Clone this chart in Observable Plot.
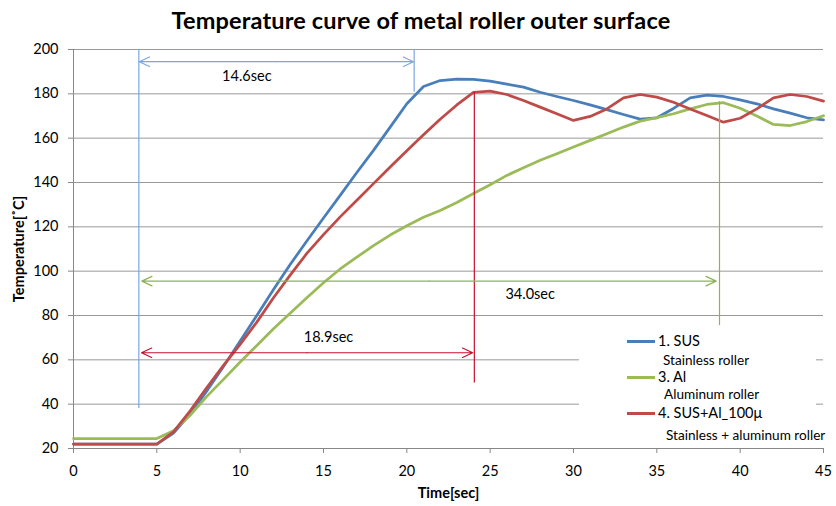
<!DOCTYPE html>
<html>
<head>
<meta charset="utf-8">
<script src="https://cdn.jsdelivr.net/npm/d3@7"></script>
<script src="https://cdn.jsdelivr.net/npm/@observablehq/plot@0.6"></script>
<style>
  html, body { margin: 0; padding: 0; background: #fff; overflow: hidden; }
  #wrap { position: relative; width: 836px; height: 506px; font-family: Lato, "Open Sans", sans-serif; }
  #title { height: 40px; line-height: 40px; text-align: center; font-weight: bold; font-size: 23.5px; letter-spacing: 0.15px; padding-left: 6px; color: #000; }
  #legend { position: absolute; left: 579px; top: 326px; width: 237px; height: 120px; background: #fff; }
  .sw { position: absolute; left: 48px; width: 28px; height: 3px; }
  .lt { position: absolute; font-size: 14.5px; white-space: nowrap; line-height: 16px; }
  .ls { position: absolute; font-size: 13.6px; white-space: nowrap; line-height: 15px; }
  g[aria-label="x-axis label"] text, g[aria-label="y-axis label"] text { font-weight: bold; }
</style>
</head>
<body>
<div id="wrap">
  <div id="title">Temperature curve of metal roller outer surface</div>
  <div id="chart"></div>
  <div id="legend"></div>
</div>
<script>
const time = [0,1,2,3,4,5,6,7,8,9,10,11,12,13,14,15,16,17,18,19,20,21,22,23,24,25,26,27,28,29,30,31,32,33,34,35,36,37,38,39,40,41,42,43,44,45];
const sus = [22,22,22,22,22,22,27,35.5,46,57,68.5,80,91.7,103,113.6,124,134.2,144.5,154.5,165,175.5,183.3,186,186.6,186.5,185.7,184.4,183,180.7,178.8,177,175,172.9,170.7,168.6,169.2,173.4,178.2,179.4,178.8,177.3,175.5,173.2,171.3,169.2,168.3];
const al = [24.5,24.5,24.5,24.5,24.5,24.5,28,35,43.5,51.2,59,66.5,74,81,88,94.8,101,106.3,111.5,116.3,120.5,124.3,127.4,131,135,139,143.2,146.7,150,153,156,159,162,165,167.7,169.3,171,173.2,175.2,176,173.5,170,166.2,165.7,167.5,170.1];
const susAl = [22,22,22,22,22,22,27.5,37,47.5,57.5,67,77,88,98.2,108,116.5,124.5,132,139.5,147,154.3,161.5,168.5,175,180.7,181.2,179.7,177,174,171,168,169.8,173.2,178.2,179.7,178.5,176.2,173.2,170.2,167.2,169,173.2,178.2,179.7,178.8,176.7];

const seriesNames = ["1. SUS", "3. Al", "4. SUS+Al_100\u03bc"];
const seriesNotes = ["Stainless roller", "Aluminum roller", "Stainless + aluminum roller"];
const seriesColors = ["#4A7EBB", "#9BBB59", "#BE4B48"];

const xTicks = [0,5,10,15,20,25,30,35,40,45];
const yTicks = [20,40,60,80,100,120,140,160,180,200];

// measurement annotations
const spanLabels = ["14.6sec", "34.0sec", "18.9sec"];
const spanStart = [3.95, 4.1, 4.08];
const spanEnd = [20.4, 38.56, 23.95];
const spanY = [194.5, 95.5, 63.2];
const spanLabelX = [10.4, 27.4, 15.3];
const spanLabelY = [188, 89.5, 70];
const spanColors = ["#7BA7E0", "#8DB35A", "#C8102E"];

const markerX = [3.92, 20.44, 24.05, 38.76];
const markerTop = [200, 180.7, 180.7, 176.5];
const markerBottom = [38, 200, 49.6, 75.5];
const markerColors = ["#7BA7E0", "#7BA7E0", "#C8102E", "#8DB35A"];

const rows = [];
[sus, al, susAl].forEach((vals, s) => vals.forEach((v, i) => rows.push({t: time[i], v, s: seriesNames[s]})));

const spans = [];
spanLabels.forEach((lab, i) => {
  const mid = (spanStart[i] + spanEnd[i]) / 2;
  spans.push({x1: mid, x2: spanStart[i], y: spanY[i], c: spanColors[i]});
  spans.push({x1: mid, x2: spanEnd[i], y: spanY[i], c: spanColors[i]});
});
const spanTexts = spanLabels.map((lab, i) => ({lab, x: spanLabelX[i], y: spanLabelY[i]}));
const markers = markerX.map((x, i) => ({x, y1: markerTop[i], y2: markerBottom[i], c: markerColors[i]}));

const chart = Plot.plot({
  width: 836, height: 466,
  marginLeft: 73, marginRight: 13, marginTop: 9, marginBottom: 58,
  style: {fontFamily: "Lato, 'Open Sans', sans-serif", fontSize: "14.5px", color: "#000", background: "#fff"},
  x: {domain: [0, 45]},
  y: {domain: [20, 200]},
  color: {domain: seriesNames, range: seriesColors},
  marks: [
    Plot.gridY(yTicks, {stroke: "#999", strokeOpacity: 1}),
    Plot.ruleX([0], {stroke: "#888"}),
    Plot.ruleY([20], {stroke: "#888"}),
    Plot.axisY(yTicks, {tickSize: 5, tickPadding: 10, stroke: "#888", label: "Temperature[\u02daC]", labelArrow: false, labelAnchor: "center", labelOffset: 60}),
    Plot.axisX(xTicks, {tickSize: 5, tickPadding: 12, stroke: "#888", label: "Time[sec]", labelArrow: false, labelAnchor: "center", labelOffset: 49}),
    Plot.line(rows, {x: "t", y: "v", z: "s", stroke: "s", strokeWidth: 2.75, strokeLinejoin: "round"}),
    Plot.ruleX(markers, {x: "x", y1: "y1", y2: "y2", stroke: "c", strokeWidth: 1.2}),
    Plot.arrow(spans, {x1: "x1", x2: "x2", y1: "y", y2: "y", stroke: "c", strokeWidth: 1.2, headAngle: 50, headLength: 14}),
    Plot.text(spanTexts, {x: "x", y: "y", text: "lab", fontSize: 14.5, fill: "#000"})
  ]
});
document.getElementById("chart").appendChild(chart);

const lg = document.getElementById("legend");
const rowsY = [15, 51, 87];
const noteY = [34, 68, 109];
const noteX = [84, 85, 87];
seriesNames.forEach((n, i) => {
  const sw = document.createElement("div");
  sw.className = "sw"; sw.style.top = (rowsY[i] - 1.5) + "px"; sw.style.background = seriesColors[i];
  lg.appendChild(sw);
  const t = document.createElement("div");
  t.className = "lt"; t.textContent = n; t.style.left = "79px"; t.style.top = (rowsY[i] - 8) + "px";
  lg.appendChild(t);
  const s = document.createElement("div");
  s.className = "ls"; s.textContent = seriesNotes[i]; s.style.left = noteX[i] + "px"; s.style.top = (noteY[i] - 7.5) + "px";
  lg.appendChild(s);
});
</script>
</body>
</html>
